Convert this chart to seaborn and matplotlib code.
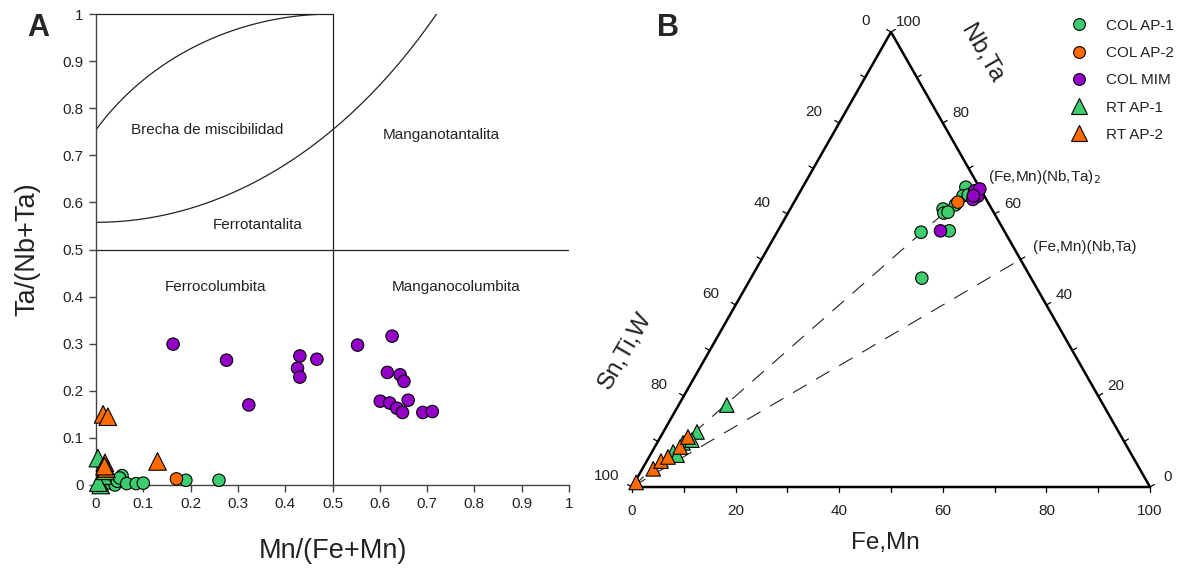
import numpy as np
import pandas as pd
import matplotlib
matplotlib.use("Agg")
import matplotlib.pyplot as plt
import seaborn as sns
from matplotlib.lines import Line2D

# ---------------- data : panel A (Mn/(Fe+Mn), Ta/(Nb+Ta)) ----------------
a_ap1_x = [0.030, 0.040, 0.045, 0.055, 0.050, 0.065, 0.085, 0.100, 0.190, 0.260]
a_ap1_y = [0.005, 0.000, 0.008, 0.020, 0.015, 0.003, 0.003, 0.004, 0.010, 0.010]
a_ap2_x = [0.170]
a_ap2_y = [0.013]
a_mim_x = [0.163, 0.276, 0.323, 0.431, 0.426, 0.431, 0.467, 0.553, 0.626, 0.616,
           0.643, 0.651, 0.660, 0.601, 0.621, 0.636, 0.648, 0.691, 0.711]
a_mim_y = [0.299, 0.265, 0.170, 0.274, 0.248, 0.229, 0.267, 0.297, 0.316, 0.239,
           0.234, 0.220, 0.180, 0.178, 0.174, 0.163, 0.154, 0.154, 0.156]
a_rt1_x = [0.004, 0.012, 0.010, 0.015, 0.005, 0.020]
a_rt1_y = [0.057, 0.010, 0.000, 0.020, 0.005, 0.030]
a_rt2_x = [0.015, 0.025, 0.130, 0.019, 0.022, 0.018]
a_rt2_y = [0.150, 0.145, 0.050, 0.047, 0.035, 0.040]

# ---------------- data : panel B (ternary, % Fe+Mn and % Nb+Ta) ----------------
b_ap1_fe = [31.5, 31.9, 31.4, 29.5, 30.1, 30.8, 27.8, 33.1, 33.0, 32.8]
b_ap1_nb = [65.9, 64.0, 62.0, 61.1, 60.2, 60.4, 56.0, 56.3, 45.9, 64.2]
b_ap2_fe = [31.6]
b_ap2_nb = [62.6]
b_mim_fe = [34.0, 34.6, 34.8, 34.2, 33.6, 34.4, 33.9, 31.4]
b_mim_nb = [64.8, 64.4, 63.9, 63.2, 65.1, 65.5, 64.0, 56.3]
b_rt1_fe = [6.5, 9.3, 4.1, 5.0, 6.4, 5.2]
b_rt1_nb = [12.1, 18.0, 7.7, 9.7, 10.3, 7.0]
b_rt2_fe = [0.3, 2.1, 2.75, 3.65, 4.9, 5.3]
b_rt2_nb = [1.0, 4.0, 5.7, 6.6, 8.8, 11.0]

series = ["COL AP-1", "COL AP-2", "COL MIM", "RT AP-1", "RT AP-2"]
palette = {"COL AP-1": "#3dcc6e", "COL AP-2": "#ff6a00", "COL MIM": "#9400c8",
           "RT AP-1": "#3dcc6e", "RT AP-2": "#ff6a00"}
markers = {"COL AP-1": "o", "COL AP-2": "o", "COL MIM": "o", "RT AP-1": "^", "RT AP-2": "^"}

tick_vals_A = [0, 0.1, 0.2, 0.3, 0.4, 0.5, 0.6, 0.7, 0.8, 0.9, 1]
tick_labels_A = ["0", "0.1", "0.2", "0.3", "0.4", "0.5", "0.6", "0.7", "0.8", "0.9", "1"]
tern_labels = [0, 20, 40, 60, 80, 100]

dfA = pd.concat([
    pd.DataFrame({"x": a_ap1_x, "y": a_ap1_y, "serie": "COL AP-1"}),
    pd.DataFrame({"x": a_ap2_x, "y": a_ap2_y, "serie": "COL AP-2"}),
    pd.DataFrame({"x": a_mim_x, "y": a_mim_y, "serie": "COL MIM"}),
    pd.DataFrame({"x": a_rt1_x, "y": a_rt1_y, "serie": "RT AP-1"}),
    pd.DataFrame({"x": a_rt2_x, "y": a_rt2_y, "serie": "RT AP-2"}),
], ignore_index=True)

dfB = pd.concat([
    pd.DataFrame({"fe": b_ap1_fe, "nb": b_ap1_nb, "serie": "COL AP-1"}),
    pd.DataFrame({"fe": b_ap2_fe, "nb": b_ap2_nb, "serie": "COL AP-2"}),
    pd.DataFrame({"fe": b_mim_fe, "nb": b_mim_nb, "serie": "COL MIM"}),
    pd.DataFrame({"fe": b_rt1_fe, "nb": b_rt1_nb, "serie": "RT AP-1"}),
    pd.DataFrame({"fe": b_rt2_fe, "nb": b_rt2_nb, "serie": "RT AP-2"}),
], ignore_index=True)
dfB["tx"] = dfB["fe"] / 100 + dfB["nb"] / 200
dfB["ty"] = dfB["nb"] / 100

sns.set_style("white")
plt.rcParams["font.family"] = ["Liberation Sans", "DejaVu Sans"]

W, H = 1182, 572
fig = plt.figure(figsize=(W / 100, H / 100), dpi=100)


def px_axes(l, t, r, b):
    return fig.add_axes([l / W, 1 - b / H, (r - l) / W, (b - t) / H])


# ======================= Panel A =======================
axA = px_axes(96, 14, 569, 485)
axA.set_xlim(0, 1)
axA.set_ylim(0, 1)
for s in ["top", "right"]:
    axA.spines[s].set_visible(False)
for s in ["left", "bottom"]:
    axA.spines[s].set_color("#444444")
    axA.spines[s].set_linewidth(1.0)

lc = "#222222"
axA.plot([0.5, 0.5], [0, 1], color=lc, lw=0.9)
axA.plot([0, 1], [0.5, 0.5], color=lc, lw=0.9)
axA.plot([0, 0.5], [1, 1], color=lc, lw=0.9, clip_on=False)
xu = np.linspace(0, 0.5, 200)
axA.plot(xu, 0.45 + 0.55 * np.sqrt(1 - ((xu - 0.5) / 0.6) ** 2), color=lc, lw=0.9)
xl = np.linspace(0, 0.72, 200)
axA.plot(xl, 2.1837 - 1.626 * np.sqrt(1 - (xl / 1.05) ** 2), color=lc, lw=0.9)

tkw = dict(fontsize=11, color="#222222", ha="center", va="center")
axA.text(0.235, 0.754, "Brecha de miscibilidad", **tkw)
axA.text(0.73, 0.743, "Manganotantalita", **tkw)
axA.text(0.342, 0.552, "Ferrotantalita", **tkw)
axA.text(0.252, 0.42, "Ferrocolumbita", **tkw)
axA.text(0.761, 0.42, "Manganocolumbita", **tkw)

sns.scatterplot(data=dfA, x="x", y="y", hue="serie", style="serie", size="serie",
                palette=palette, markers=markers,
                sizes={"COL AP-1": 80, "COL AP-2": 80, "COL MIM": 80, "RT AP-1": 160, "RT AP-2": 160},
                edgecolor="black", linewidth=0.8, legend=False, ax=axA, clip_on=False, zorder=3)
axA.set_xticks(tick_vals_A)
axA.set_xticklabels(tick_labels_A)
axA.set_yticks(tick_vals_A)
axA.set_yticklabels(tick_labels_A)
axA.tick_params(axis="both", direction="out", length=5, width=1, color="#444444",
                labelsize=11, labelcolor="#222222", bottom=True, left=True, pad=4)
axA.set_xlabel("Mn/(Fe+Mn)", fontsize=19.5, labelpad=19, color="#222222")
axA.set_ylabel("Ta/(Nb+Ta)", fontsize=19.5, labelpad=16, color="#222222")

fig.text(38 / W, 1 - 28 / H, "A", fontsize=22, fontweight="bold", ha="center", va="center")
fig.text(668 / W, 1 - 28 / H, "B", fontsize=22, fontweight="bold", ha="center", va="center")

# ======================= Panel B (ternary) =======================
axB = px_axes(632, 32, 1150, 487)
axB.set_xlim(0, 1)
axB.set_ylim(0, 1)
axB.axis("off")


def tern(fe, nb):
    return fe / 100 + nb / 200, nb / 100


# triangle frame
axB.plot([0, 1, 0.5, 0], [0, 0, 1, 0], color="black", lw=1.8, clip_on=False, zorder=2)

# dashed reference lines (from Sn,Ti,W vertex)
for fe_end, nb_end in [(100 / 3, 200 / 3), (50, 50)]:
    x1, y1 = tern(fe_end, nb_end)
    axB.plot([0, x1], [0, y1], color="#222222", lw=0.8, dashes=(14, 10), zorder=1)

# ticks and tick labels
sx, sy = 518.0, 455.0
tl = 5.0
for v in range(0, 101, 10):
    x, y = tern(v, 0)
    axB.plot([x, x], [y, y - tl / sy], color="black", lw=0.9, clip_on=False)
    x, y = tern(0, 100 - v)
    axB.plot([x, x - 0.866 * tl / sx], [y, y + 0.5 * tl / sy], color="black", lw=0.9, clip_on=False)
    x, y = tern(100 - v, v)
    axB.plot([x, x + 0.866 * tl / sx], [y, y + 0.5 * tl / sy], color="black", lw=0.9, clip_on=False)

lkw = dict(textcoords="offset pixels", ha="center", va="center", fontsize=11, color="#222222",
           annotation_clip=False)
for v in tern_labels:
    x, y = tern(v, 0)
    axB.annotate(str(v), (x, y), xytext=(0, -24), **lkw)
    x, y = tern(0, 100 - v)
    axB.annotate(str(v), (x, y), xytext=(-25, 11), **lkw)
    x, y = tern(100 - v, v)
    axB.annotate(str(v), (x, y), xytext=(18, 10), **lkw)

axB.text(0.490, -0.123, "Fe,Mn", fontsize=17.5, ha="center", va="center", color="#222222")
axB.text(-0.0124, 0.2996, "Sn,Ti,W", fontsize=17.5, ha="center", va="center", rotation=60,
         color="#222222")
axB.text(0.675, 0.953, "Nb,Ta", fontsize=17.5, ha="center", va="center", rotation=-60,
         color="#222222")

axB.text((988 - 632) / sx, (487 - 177) / sy, r"(Fe,Mn)(Nb,Ta)$_{2}$", fontsize=11,
         ha="left", va="center", color="#222222")
axB.text((1033 - 632) / sx, (487 - 247) / sy, "(Fe,Mn)(Nb,Ta)", fontsize=11,
         ha="left", va="center", color="#222222")

sns.scatterplot(data=dfB, x="tx", y="ty", hue="serie", style="serie", size="serie",
                palette=palette, markers=markers,
                sizes={"COL AP-1": 80, "COL AP-2": 80, "COL MIM": 80, "RT AP-1": 110, "RT AP-2": 110},
                edgecolor="black", linewidth=0.8, legend=False, ax=axB, clip_on=False, zorder=3)
axB.axis("off")

# legend
handles = [Line2D([], [], linestyle="none", marker=markers[s], markerfacecolor=palette[s],
                  markeredgecolor="black", markeredgewidth=0.8,
                  markersize=8.5 if markers[s] == "o" else 11) for s in series]
fig.legend(handles, series, loc="upper left", bbox_to_anchor=(1062 / W, 1 - 11 / H),
           frameon=False, fontsize=11, labelspacing=0.87, handlelength=1.2,
           handletextpad=1.2, borderpad=0, labelcolor="#222222")

fig.savefig("out.png", dpi=100)
